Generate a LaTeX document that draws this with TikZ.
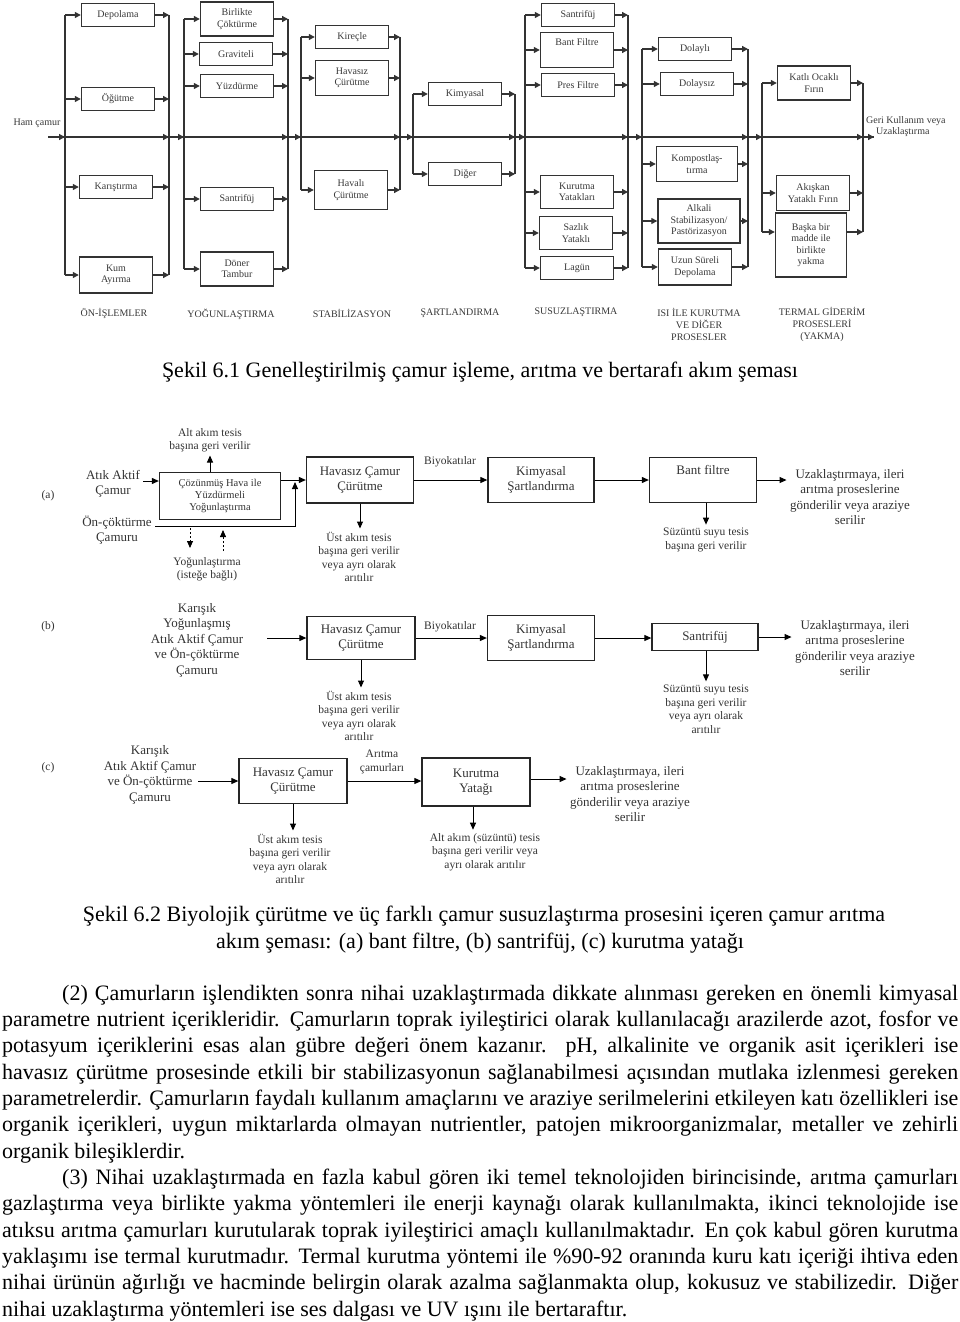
\documentclass[tikz,border=0pt]{standalone}
\usepackage{fontspec}
\setmainfont{Liberation Serif}
\usetikzlibrary{arrows.meta}
\definecolor{lnc}{gray}{0.2}
\definecolor{txc}{gray}{0.22}
\definecolor{txd}{gray}{0.2}
\newcommand{\tsz}[2]{\fontsize{#1}{#2}\selectfont}

\begin{document}
\begin{tikzpicture}[x=1pt,y=-1pt,
    % sekil 6.1
    arr/.style={draw=lnc, line width=1.3pt, -{Triangle[length=6pt,width=6pt]}},
    bus/.style={draw=lnc, line width=1.6pt},
    tb/.style={draw=lnc, line width=1.4pt, minimum width=73pt, minimum height=23pt, inner sep=0pt, align=center, text=txc, font=\tsz{10}{11.5}},
    cat/.style={text=txc, font=\tsz{10}{12}, align=center},
    % sekil 6.2
    ar2/.style={draw=black, line width=1pt, -{Triangle[length=7pt,width=6pt]}},
    bx/.style={draw=black!85, line width=1.3pt, inner sep=0pt, align=center, text=txd, font=\tsz{13}{15.5}},
    lb/.style={text=txd, align=center, font=\tsz{11.5}{13.5}},
    lbb/.style={text=txd, align=center, font=\tsz{13}{15.5}},
    captxt/.style={font=\tsz{22}{26.4}}
    ]
\useasboundingbox (0,0) rectangle (960,1322);

%% Sekil 6.1
\node[text=txc, font=\tsz{10}{12}] (ham) at (37,123) {Ham çamur};

% on-islemler
\node[tb] (dep) at (118,15) {Depolama};
\node[tb] (ogu) at (118,99) {Öğütme};
\node[tb] (kar) at (116,187) {Karıştırma};
\node[tb, minimum height=36pt] (kum) at (116,275) {Kum\\Ayırma};

% yogunlastirma
\node[tb, minimum height=34pt] (bir) at (237,19) {Birlikte\\Çöktürme};
\node[tb] (gra) at (236,54) {Graviteli};
\node[tb] (yuz) at (237,86) {Yüzdürme};
\node[tb] (sa1) at (237,199) {Santrifüj};
\node[tb, minimum height=34pt] (don) at (237,269) {Döner\\Tambur};

% stabilizasyon
\node[tb] (kir) at (352,37) {Kireçle};
\node[tb, minimum height=35pt] (hvs) at (352,78) {Havasız\\Çürütme};
\node[tb, minimum height=39pt] (hvl) at (351,190) {Havalı\\Çürütme};

% sartlandirma
\node[tb] (kim) at (465,94) {Kimyasal};
\node[tb] (dig) at (465,174) {Diğer};

% susuzlastirma
\node[tb] (sa2) at (578,15) {Santrifüj};
\node[tb, minimum height=35pt] (ban) at (577,50) {Bant Filtre\\ \strut};
\node[tb] (pre) at (578,85) {Pres Filtre};
\node[tb, minimum height=33pt] (kur) at (577,192) {Kurutma\\Yatakları};
\node[tb, minimum height=33pt] (saz) at (576,233) {Sazlık\\Yataklı};
\node[tb] (lag) at (577,268) {Lagün};

% isi ile kurutma
\node[tb] (dly) at (695,49) {Dolaylı};
\node[tb] (dsz) at (697,84) {Dolaysız};
\node[tb, minimum width=81pt, minimum height=35pt] (kom) at (697,164) {Kompostlaş-\\tırma};
\node[tb, minimum width=82pt, minimum height=44pt] (alk) at (699,221) {Alkali\\Stabilizasyon/\\Pastörizasyon};
\node[tb, minimum height=36pt] (uzs) at (695,267) {Uzun Süreli\\Depolama};

% termal giderim
\node[tb, minimum height=34pt] (kat) at (814,83) {Katlı Ocaklı\\Fırın};
\node[tb, minimum height=35pt] (aks) at (813,193) {Akışkan\\Yataklı Fırın};
\node[tb, minimum width=71pt, minimum height=64pt] (bsk) at (811,245) {Başka bir\\madde ile\\birlikte\\yakma};

% ana hat uzerindeki noktalar
\path (48,137) coordinate (p0)
      (65,137) coordinate (p1)   (169,137) coordinate (p2)
      (184,137) coordinate (p3)  (288,137) coordinate (p4)
      (301,137) coordinate (p5)  (400,137) coordinate (p6)
      (413,137) coordinate (p7)  (515,137) coordinate (p8)
      (525,137) coordinate (p9)  (628,137) coordinate (p10)
      (642,137) coordinate (p11) (748,137) coordinate (p12)
      (762,137) coordinate (p13) (863,137) coordinate (p14)
      (874,137) coordinate (p15);

% kolon baglantilari
\foreach \bx/\l/\r in {dep/p1/p2,ogu/p1/p2,kar/p1/p2,kum/p1/p2,
    bir/p3/p4,gra/p3/p4,yuz/p3/p4,sa1/p3/p4,don/p3/p4,
    kir/p5/p6,hvs/p5/p6,hvl/p5/p6,
    kim/p7/p8,dig/p7/p8,
    sa2/p9/p10,ban/p9/p10,pre/p9/p10,kur/p9/p10,saz/p9/p10,lag/p9/p10,
    dly/p11/p12,dsz/p11/p12,kom/p11/p12,alk/p11/p12,uzs/p11/p12,
    kat/p13/p14,aks/p13/p14} {
  \draw[arr] (\bx.west -| \l) -- (\bx.west);
  \draw[arr] (\bx.east) -- (\bx.east -| \r);
}
\coordinate (bskA) at ([yshift=13pt]bsk.west);
\coordinate (bskB) at ([yshift=13pt]bsk.east);
\draw[arr] (bskA -| p13) -- (bskA);
\draw[arr] (bskB) -- (bskB -| p14);

% dikey baralar
\foreach \t/\b/\l/\r in {dep/kum/p1/p2, bir/don/p3/p4, kir/hvl/p5/p6, kim/dig/p7/p8,
    sa2/lag/p9/p10, dly/uzs/p11/p12, kat/bskA/p13/p14} {
  \draw[bus] (\t.west -| \l) -- (\b -| \l);
  \draw[bus] (\t.east -| \r) -- (\b -| \r);
}

% ana hat
\draw[bus] (p0) -- (p15);
\foreach \a/\b in {p0/p1,p1/p2,p2/p3,p3/p4,p4/p5,p5/p6,p6/p7,p7/p8,p8/p9,p9/p10,p10/p11,p11/p12,p12/p13,p13/p14,p14/p15}
  \draw[arr] (\a) -- (\b);
\node[text=txc, font=\tsz{10}{11}, align=left, anchor=north west, inner sep=0pt] (geri) at (866,116) {Geri Kullanım veya\\\hspace*{10pt}Uzaklaştırma};

\node[cat] (l1) at (114,313) {ÖN-İŞLEMLER};
\node[cat] (l2) at (231,314) {YOĞUNLAŞTIRMA};
\node[cat] (l3) at (352,313) {STABİLİZASYON};
\node[cat] (l4) at (460,313) {ŞARTLANDIRMA};
\node[cat] (l5) at (576,312) {SUSUZLAŞTIRMA};
\node[cat, anchor=north] (l6) at (699,305) {ISI İLE KURUTMA\\VE DİĞER\\PROSESLER};
\node[cat, anchor=north] (l7) at (822,304) {TERMAL GİDERİM\\PROSESLERİ\\(YAKMA)};

\node[captxt, anchor=base] (cap1) at (480,377) {Şekil 6.1 Genelleştirilmiş çamur işleme, arıtma ve bertarafı akım şeması};

%% Sekil 6.2 (a)
\node[lb] (lbA) at (48,496) {(a)};
\node[lbb] (atk) at (113,484) {Atık Aktif\\Çamur};
\node[bx, minimum width=121pt, minimum height=47pt, font=\tsz{10.5}{12}] (thk) at (220,496) {Çözünmüş Hava ile\\Yüzdürmeli\\Yoğunlaştırma};
\node[lb] (alt1) at (210,440) {Alt akım tesis\\başına geri verilir};
\node[lbb] (onc) at (117,530) {Ön-çöktürme\\Çamuru};
\node[bx, minimum width=107pt, minimum height=46pt] (hv1) at (360,480) {Havasız Çamur\\Çürütme};
\node[lb] (ust1) at (359,557) {Üst akım tesis\\başına geri verilir\\veya ayrı olarak\\arıtılır};
\node[lb] (yog) at (207,569) {Yoğunlaştırma\\(isteğe bağlı)};
\node[lb] (bio1) at (450,462) {Biyokatılar};
\node[bx, minimum width=106pt, minimum height=45pt] (km1) at (541,480) {Kimyasal\\Şartlandırma};
\node[bx, minimum width=107pt, minimum height=45pt] (bf) at (703,480) {Bant filtre\\ \strut};
\node[lb] (suz1) at (706,540) {Süzüntü suyu tesis\\başına geri verilir};
\node[lbb] (uz1) at (850,497) {Uzaklaştırmaya, ileri\\arıtma proseslerine\\gönderilir veya araziye\\serilir};

\coordinate (a1) at (143,481);
\coordinate (j1) at (295,482);
\coordinate (d1) at (190,528);
\coordinate (d2) at (190,548);
\coordinate (d3) at (223,551);
\coordinate (d4) at (223,530);
\draw[ar2] (a1) -- (a1 -| thk.west);
\draw[ar2] (alt1.south |- thk.north) -- (alt1.south);
\draw[ar2] (thk.east |- hv1.west) -- (hv1.west);
\draw[ar2] ([yshift=4pt]onc.east) -| (j1);
\draw[ar2, line width=0.8pt, dash pattern=on 2pt off 2pt] (d1) -- (d2);
\draw[ar2, line width=0.8pt, dash pattern=on 2pt off 2pt] (d3) -- (d4);
\draw[ar2] (hv1.south) -- (hv1.south |- ust1.north);
\draw[ar2] (hv1.east) -- (km1.west);
\draw[ar2] (km1.east) -- (bf.west);
\draw[ar2] (bf.south -| suz1) -- (suz1.north);
\draw[ar2] (bf.east) -- (bf.east -| uz1.west);

%% Sekil 6.2 (b)
\node[lb] (lbB) at (48,627) {(b)};
\node[lbb] (mx1) at (197,640) {Karışık\\Yoğunlaşmış\\Atık Aktif Çamur\\ve Ön-çöktürme\\Çamuru};
\coordinate (b1) at (267,638);
\node[bx, minimum width=108pt, minimum height=43pt] (hv2) at (361,638) {Havasız Çamur\\Çürütme};
\node[lb] (ust2) at (359,716) {Üst akım tesis\\başına geri verilir\\veya ayrı olarak\\arıtılır};
\node[lb] (bio2) at (450,627) {Biyokatılar};
\node[bx, minimum width=107pt, minimum height=45pt] (km2) at (541,638) {Kimyasal\\Şartlandırma};
\node[bx, minimum width=106pt, minimum height=27pt] (sn2) at (705,637) {Santrifüj};
\node[lb] (suz2) at (706,709) {Süzüntü suyu tesis\\başına geri verilir\\veya ayrı olarak\\arıtılır};
\node[lbb] (uz2) at (855,648) {Uzaklaştırmaya, ileri\\arıtma proseslerine\\gönderilir veya araziye\\serilir};

\draw[ar2] (b1) -- (hv2.west);
\draw[ar2] (hv2.south) -- (hv2.south |- ust2.north);
\draw[ar2] (hv2.east) -- (km2.west);
\draw[ar2] (km2.east) -- (km2.east -| sn2.west);
\draw[ar2] (sn2.south -| suz2) -- (suz2.north);
\draw[ar2] (sn2.east) -- (sn2.east -| uz2.west);

%% Sekil 6.2 (c)
\node[lb] (lbC) at (48,768) {(c)};
\node[lbb] (mx2) at (150,775) {Karışık\\Atık Aktif Çamur\\ve Ön-çöktürme\\Çamuru};
\coordinate (c1) at (198,781);
\node[bx, minimum width=108pt, minimum height=45pt] (hv3) at (293,781) {Havasız Çamur\\Çürütme};
\node[lb] (ust3) at (290,859) {Üst akım tesis\\başına geri verilir\\veya ayrı olarak\\arıtılır};
\node[lb] (ari) at (382,762) {Arıtma\\çamurları};
\node[bx, minimum width=108pt, minimum height=48pt] (kry) at (476,782) {Kurutma\\Yatağı};
\node[lb] (alt3) at (485,852) {Alt akım (süzüntü) tesis\\başına geri verilir veya\\ayrı olarak arıtılır};
\node[lbb] (uz3) at (630,794) {Uzaklaştırmaya, ileri\\arıtma proseslerine\\gönderilir veya araziye\\serilir};

\draw[ar2] (c1) -- (hv3.west);
\draw[ar2] (hv3.south) -- (hv3.south |- ust3.north);
\draw[ar2] (hv3.east) -- (hv3.east -| kry.west);
\draw[ar2] ([xshift=-3pt]kry.south) -- ([xshift=-3pt]kry.south |- alt3.north);
\draw[ar2] ([yshift=3pt]kry.east) -- ([yshift=3pt]kry.east -| uz3.west);

\node[captxt, anchor=base] (cap2) at (484,921) {Şekil 6.2 Biyolojik çürütme ve üç farklı çamur susuzlaştırma prosesini içeren çamur arıtma};
\node[captxt, anchor=base] (cap3) at (480,948) {akım şeması: (a) bant filtre, (b) santrifüj, (c) kurutma yatağı};

%% metin
\node[anchor=base west, inner sep=0pt] (txt) at (2,1000) {\parbox[t]{956pt}{\tsz{22}{26.35}%
\makebox[956pt][s]{\hspace*{60pt}(2) Çamurların işlendikten sonra nihai uzaklaştırmada dikkate alınması gereken en önemli kimyasal}\\
\makebox[956pt][s]{parametre nutrient içerikleridir. Çamurların toprak iyileştirici olarak kullanılacağı arazilerde azot, fosfor ve}\\
\makebox[956pt][s]{potasyum içeriklerini esas alan gübre değeri önem kazanır. pH, alkalinite ve organik asit içerikleri ise}\\
\makebox[956pt][s]{havasız çürütme prosesinde etkili bir stabilizasyonun sağlanabilmesi açısından mutlaka izlenmesi gereken}\\
\makebox[956pt][s]{parametrelerdir. Çamurların faydalı kullanım amaçlarını ve araziye serilmelerini etkileyen katı özellikleri ise}\\
\makebox[956pt][s]{organik içerikleri, uygun miktarlarda olmayan nutrientler, patojen mikroorganizmalar, metaller ve zehirli}\\
\makebox[956pt][l]{organik bileşiklerdir.}\\
\makebox[956pt][s]{\hspace*{60pt}(3) Nihai uzaklaştırmada en fazla kabul gören iki temel teknolojiden birincisinde, arıtma çamurları}\\
\makebox[956pt][s]{gazlaştırma veya birlikte yakma yöntemleri ile enerji kaynağı olarak kullanılmakta, ikinci teknolojide ise}\\
\makebox[956pt][s]{atıksu arıtma çamurları kurutularak toprak iyileştirici amaçlı kullanılmaktadır. En çok kabul gören kurutma}\\
\makebox[956pt][s]{yaklaşımı ise termal kurutmadır. Termal kurutma yöntemi ile \%90-92 oranında kuru katı içeriği ihtiva eden}\\
\makebox[956pt][s]{nihai ürünün ağırlığı ve hacminde belirgin olarak azalma sağlanmakta olup, kokusuz ve stabilizedir. Diğer}\\
\makebox[956pt][l]{nihai uzaklaştırma yöntemleri ise ses dalgası ve UV ışını ile bertaraftır.}}};
\end{tikzpicture}
\end{document}
